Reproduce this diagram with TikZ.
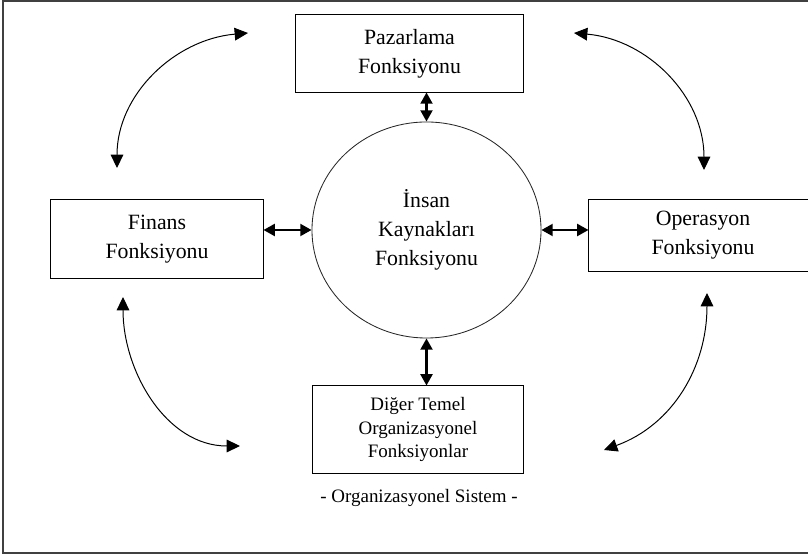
\documentclass[tikz,border=0pt]{standalone}
\usepackage{fontspec}
\setmainfont{Liberation Serif}
\usetikzlibrary{arrows.meta,shapes.geometric}
\tikzset{
  frame/.style={draw=black!75, line width=1pt},
  funcbox/.style={draw=black, line width=0.7pt, align=center, inner sep=0pt, font=\fontsize{15.5}{20.6}\selectfont},
  smallbox/.style={funcbox, font=\fontsize{13.5}{16.4}\selectfont},
  hub/.style={ellipse, draw=black!85, line width=0.6pt, align=center, inner sep=0pt, minimum width=5.725cm, minimum height=5.4cm, font=\fontsize{15.5}{20.6}\selectfont},
  link/.style={line width=1.5pt, {Triangle[length=8pt,width=8.5pt]}-{Triangle[length=8pt,width=8.5pt]}},
  swing/.style={line width=0.7pt, {Triangle[length=9.5pt,width=9pt]}-{Triangle[length=9.5pt,width=9pt]}},
  caption/.style={font=\fontsize{13.5}{16}\selectfont},
}

\begin{document}
\begin{tikzpicture}[x=0.025cm, y=0.025cm]
\useasboundingbox (0,0) rectangle (808,557);
\clip (0,0) rectangle (808,557);
\draw[frame] (3,4) rectangle (830,556);
% functions round the centre
\node[funcbox, minimum width=5.675cm, minimum height=1.925cm] (paz) at (409.5,503.5) {Pazarlama\\Fonksiyonu};
\node[funcbox, minimum width=5.3cm, minimum height=1.95cm] (fin) at (157,318) {Finans\\Fonksiyonu};
\node[funcbox, minimum width=5.7cm, minimum height=1.775cm] (ope) at (703,321.5) {Operasyon\\Fonksiyonu};
\node[smallbox, minimum width=5.25cm, minimum height=2.175cm] (dig) at (418,127.5) {Diğer Temel\\Organizasyonel\\Fonksiyonlar};
\node[hub] (ins) at (426.5,327) {İnsan\\Kaynakları\\Fonksiyonu};
\node[caption] (sys) at (419,59) {- Organizasyonel Sistem -};

% links to the centre
\draw[link] (paz.south -| ins.north) -- (ins.north);
\draw[link] (fin.east |- ins.west) -- (ins.west);
\draw[link] (ins.east) -- (ope.west |- ins.east);
\draw[link] (ins.south) -- (ins.south |- dig.north);

% outer swings
\coordinate (tlA) at (117,389);
\coordinate (tlB) at (248,524);
\coordinate (trA) at (574,524);
\coordinate (trB) at (704,387);
\coordinate (blA) at (123,260);
\coordinate (blB) at (240,111);
\coordinate (brA) at (707,264);
\coordinate (brB) at (604,107);
\draw[swing] (tlA) to[out=90, in=185] (tlB);
\draw[swing] (trA) to[out=-5, in=90] (trB);
\draw[swing] (blA) to[out=-90, in=180] (blB);
\draw[swing] (brA) to[out=-90, in=20] (brB);
\end{tikzpicture}
\end{document}
